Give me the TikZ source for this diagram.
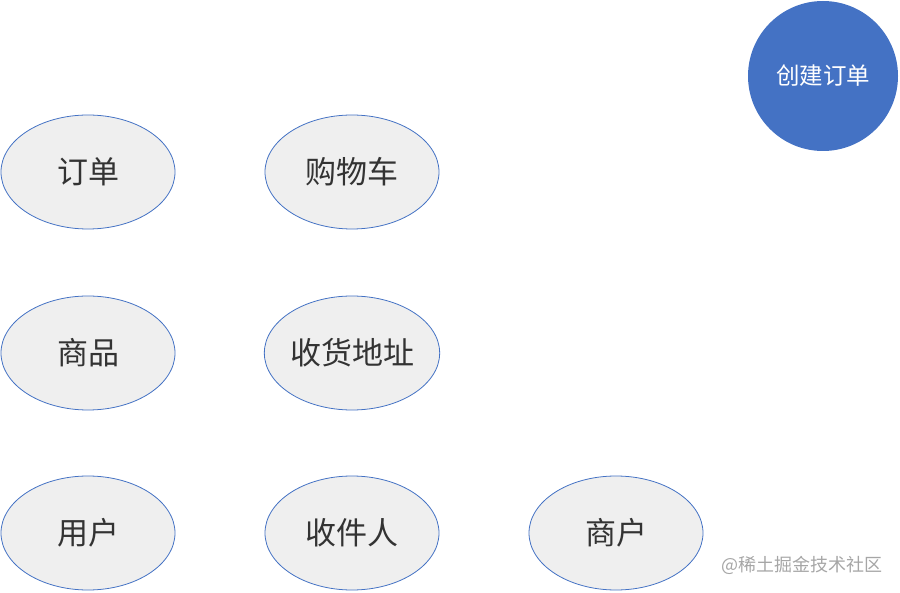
\documentclass[tikz,border=0pt]{standalone}
\usepackage{fontspec}
\setmainfont{Noto Sans CJK SC}
\usetikzlibrary{shapes.geometric}
\definecolor{entblue}{HTML}{4472C4}
\definecolor{entfill}{HTML}{EFEFEF}
\definecolor{enttext}{HTML}{333333}
\tikzset{entity/.style={ellipse, draw=entblue, line width=0.8pt, fill=entfill, minimum width=174, minimum height=114, inner sep=0pt, text=enttext, font=\fontsize{31}{34}\selectfont}}
\tikzset{action/.style={circle, fill=entblue, minimum size=150, inner sep=0pt, text=white, font=\fontsize{23.5}{26}\selectfont}}

\begin{document}
\begin{tikzpicture}[x=1pt, y=-1pt]
		\useasboundingbox (0,0) rectangle (900,593);
		\node[action] (create) at (823,76){创建订单};
		
		\node[entity] (order) at (88,172){订单};
		\node[entity] (cart) at (352,172){购物车};
		
		\node[entity] (goods) at (88,353){商品};
		\node[entity] (addr) at (352,353){收货地址};
		
		\node[entity] (user) at (88,533){用户};
		\node[entity] (recv) at (352,533){收件人};
		\node[entity] (shop) at (616,533){商户};
		
		\node[text=black!35, font=\fontsize{18}{20}\selectfont] (mark) at (802,565){@稀土掘金技术社区};
	\end{tikzpicture}
\end{document}
